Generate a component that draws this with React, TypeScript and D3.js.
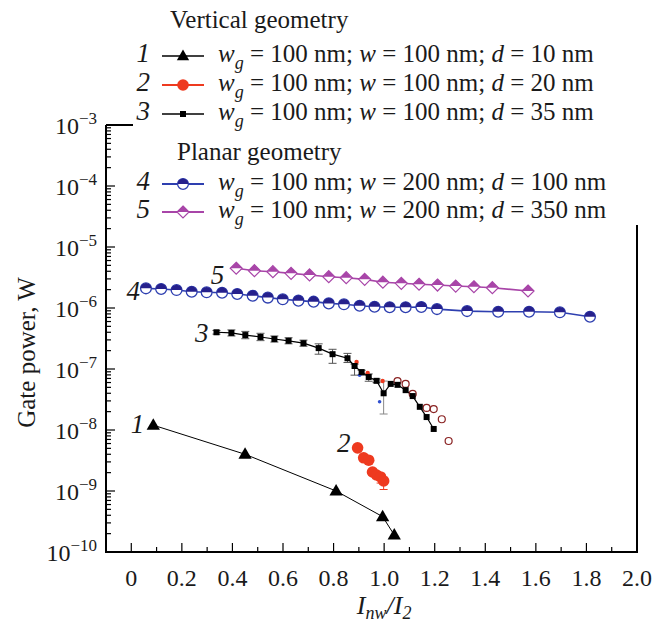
import React from 'react'
import {scaleLinear, scaleLog, line} from 'd3'

// series 1: vertical, d = 10 nm
const s1X = [0.087, 0.45, 0.81, 0.994, 1.04]
const s1Y = [1.2e-8, 4.0e-9, 1.0e-9, 3.8e-10, 1.9e-10]

// series 2: vertical, d = 20 nm (points only)
const s2X = [0.895, 0.919, 0.939, 0.954, 0.97, 0.986, 0.998]
const s2Y = [5.1e-9, 3.5e-9, 3.2e-9, 2.05e-9, 1.83e-9, 1.7e-9, 1.46e-9]
const s2ErrDn = [0, 0, 0, 0.05, 0.06, 0.1, 0.14]

// series 3: vertical, d = 35 nm
const s3X = [0.337, 0.396, 0.451, 0.511, 0.566, 0.622, 0.681, 0.741, 0.796, 0.855, 0.883, 0.911, 0.939, 0.97, 0.998, 1.026, 1.053, 1.085, 1.113, 1.141, 1.168, 1.196]
const s3Y = [4.0e-7, 3.9e-7, 3.6e-7, 3.35e-7, 3.1e-7, 2.9e-7, 2.65e-7, 2.2e-7, 1.75e-7, 1.5e-7, 1.12e-7, 8.9e-8, 7.4e-8, 6.4e-8, 4.0e-8, 5.7e-8, 5.5e-8, 4.5e-8, 3.6e-8, 2.4e-8, 1.63e-8, 1.04e-8]
const s3ErrUp = [0.03, 0.05, 0.06, 0.06, 0.05, 0.05, 0.05, 0.07, 0.08, 0.08, 0.03, 0.03, 0.05, 0.03, 0.2, 0, 0, 0, 0, 0, 0, 0]
const s3ErrDn = [0.03, 0.05, 0.06, 0.06, 0.05, 0.05, 0.05, 0.1, 0.15, 0.07, 0.15, 0.05, 0.07, 0.03, 0.34, 0, 0, 0, 0, 0, 0, 0]

// extra measurements overlaid on curve 3
const openX = [1.053, 1.085, 1.113, 1.168, 1.196, 1.228, 1.255]
const openY = [6.35e-8, 5.7e-8, 3.9e-8, 2.3e-8, 2.2e-8, 1.5e-8, 6.6e-9]
const redDotX = [0.891, 0.935, 0.994]
const redDotY = [1.3e-7, 8.6e-8, 6.35e-8]
const blueDotX = [0.903, 0.982]
const blueDotY = [7.9e-8, 2.9e-8]

// series 4: planar, d = 100 nm
const s4X = [0.058, 0.118, 0.179, 0.239, 0.298, 0.359, 0.419, 0.48, 0.54, 0.599, 0.661, 0.721, 0.781, 0.841, 0.903, 0.962, 1.022, 1.085, 1.147, 1.209, 1.328, 1.451, 1.573, 1.695, 1.814]
const s4Y = [2.1e-6, 2.05e-6, 1.97e-6, 1.85e-6, 1.81e-6, 1.78e-6, 1.7e-6, 1.59e-6, 1.48e-6, 1.39e-6, 1.32e-6, 1.27e-6, 1.19e-6, 1.15e-6, 1.09e-6, 1.05e-6, 1.03e-6, 1.03e-6, 1.04e-6, 9.6e-7, 8.9e-7, 8.7e-7, 8.7e-7, 8.5e-7, 7.2e-7]

// series 5: planar, d = 350 nm
const s5X = [0.415, 0.487, 0.56, 0.632, 0.705, 0.781, 0.85, 0.923, 0.995, 1.068, 1.138, 1.211, 1.283, 1.355, 1.428, 1.569]
const s5Y = [4.48e-6, 4.09e-6, 3.94e-6, 3.7e-6, 3.48e-6, 3.26e-6, 3.14e-6, 2.95e-6, 2.65e-6, 2.54e-6, 2.45e-6, 2.38e-6, 2.29e-6, 2.23e-6, 2.15e-6, 1.9e-6]

const xTicks = [0, 0.2, 0.4, 0.6, 0.8, 1.0, 1.2, 1.4, 1.6, 1.8, 2.0]
const xTickLabels = ['0', '0.2', '0.4', '0.6', '0.8', '1.0', '1.2', '1.4', '1.6', '1.8', '2.0']
const yExps = [-3, -4, -5, -6, -7, -8, -9, -10]

const legendRows = [
  {n: '1', w: '100', d: '10'},
  {n: '2', w: '100', d: '20'},
  {n: '3', w: '100', d: '35'},
  {n: '4', w: '200', d: '100'},
  {n: '5', w: '200', d: '350'},
]

const font = '"Liberation Serif", "Times New Roman", serif'
const BLUE = '#2e3fb0'
const NAVY = '#26208c'
const MAG = '#a845a8'
const RED = '#ee3a1f'
const INK = '#1a1a1a'

export default function App() {
  const width = 667, height = 631
  const x = scaleLinear().domain([-0.1, 2.0]).range([106, 637])
  const y = scaleLog().domain([1e-10, 1e-3]).range([552, 125])
  const x0 = x(-0.1), x1 = x(2.0), yb = y(1e-10), yt = y(1e-3)

  const pts = (xs: number[], ys: number[]) => xs.map((v, i) => [x(v), y(ys[i])] as [number, number])
  const path = line()

  const minorX: number[] = []
  for (let i = 0; i < 10; i++) minorX.push(0.1 + 0.2 * i)
  const minorY: number[] = []
  for (let e = -10; e < -3; e++) for (let m = 2; m <= 9; m++) minorY.push(m * Math.pow(10, e))

  const tri = (cx: number, cy: number, s: number) =>
    `M${cx},${cy - s}L${cx + s * 0.95},${cy + s * 0.65}L${cx - s * 0.95},${cy + s * 0.65}Z`

  const circ4 = (cx: number, cy: number, key: any) => (
    <g key={key}>
      <circle cx={cx} cy={cy} r={5.4} fill="#fff" stroke={BLUE} strokeWidth={1.3} />
      <path d={`M${cx - 5.4},${cy}A5.4,5.4 0 0 1 ${cx + 5.4},${cy}Z`} fill={NAVY} />
    </g>
  )
  const diam5 = (cx: number, cy: number, key: any) => (
    <g key={key}>
      <path d={`M${cx},${cy - 6}L${cx + 6},${cy}L${cx},${cy + 6}L${cx - 6},${cy}Z`} fill="#fff" stroke={MAG} strokeWidth={1.2} />
      <path d={`M${cx},${cy - 6}L${cx + 6},${cy}L${cx - 6},${cy}Z`} fill={MAG} />
    </g>
  )

  const p1 = pts(s1X, s1Y), p2 = pts(s2X, s2Y), p3 = pts(s3X, s3Y)
  const p4 = pts(s4X, s4Y), p5 = pts(s5X, s5Y)

  const errBar = (vx: number, vy: number, up: number, dn: number, color: string, key: any) => {
    const cx = x(vx)
    const ya = y(vy * Math.pow(10, up)), yc = y(vy / Math.pow(10, dn))
    return (
      <g key={key} stroke={color} strokeWidth={1}>
        <line x1={cx} x2={cx} y1={ya} y2={yc} />
        {up > 0 && <line x1={cx - 4} x2={cx + 4} y1={ya} y2={ya} />}
        {dn > 0 && <line x1={cx - 4} x2={cx + 4} y1={yc} y2={yc} />}
      </g>
    )
  }

  const legendY = [62, 91, 120, 190, 218]

  return (
    <svg width={width} height={height} style={{position: 'absolute', left: 0, top: 0, background: '#fff'}} fontFamily={font}>
      {/* frame */}
      <g stroke="#000" strokeWidth={2} fill="none">
        <path d={`M${x0},${yt}V${yb}H${x1}V${yt}H${x0}`} />
      </g>
      {/* ticks */}
      <g stroke="#000" strokeWidth={1.2}>
        {xTicks.map(t => <line key={'xt' + t} x1={x(t)} x2={x(t)} y1={yb} y2={yb - 9} />)}
        {minorX.map(t => <line key={'xm' + t} x1={x(t)} x2={x(t)} y1={yb} y2={yb - 5} />)}
        {yExps.map(e => <line key={'yt' + e} x1={x0} x2={x0 + 9} y1={y(Math.pow(10, e))} y2={y(Math.pow(10, e))} />)}
        {minorY.map((t, i) => <line key={'ym' + i} x1={x0} x2={x0 + 5} y1={y(t)} y2={y(t)} />)}
      </g>
      {/* x tick labels */}
      <g fontSize={24} textAnchor="middle" fill={INK}>
        {xTicks.map((t, i) => <text key={'xl' + t} x={x(t)} y={yb + 34}>{xTickLabels[i]}</text>)}
      </g>
      {/* y tick labels */}
      <g fontSize={24} textAnchor="end" fill={INK}>
        {yExps.map(e => (
          <text key={'yl' + e} x={97} y={y(Math.pow(10, e)) + 9}>
            10<tspan fontSize={17} dy={-10}>{'\u2212' + Math.abs(e)}</tspan>
          </text>
        ))}
      </g>
      <text transform={`translate(35,${(yt + yb) / 2 + 14}) rotate(-90)`} textAnchor="middle" fontSize={25} fill={INK}>Gate power, W</text>
      <text x={x(1.0)} y={yb + 62} textAnchor="middle" fontSize={26} fontStyle="italic" fill={INK}>
        I<tspan fontSize={18} dy={5}>nw</tspan><tspan dy={-5}>/I</tspan><tspan fontSize={18} dy={5}>2</tspan>
      </text>

      {/* legend background */}
      <rect x={x0 + 27} y={0} width={width - x0 - 27} height={yt + 100} fill="#fff" />

      {/* curve 1 */}
      <path d={path(p1) || ''} fill="none" stroke="#000" strokeWidth={1} />
      {p1.map((p, i) => <path key={'t' + i} d={tri(p[0], p[1], 7)} fill="#000" />)}

      {/* curve 2 */}
      {s2X.map((v, i) => s2ErrDn[i] > 0 ? errBar(v, s2Y[i], 0, s2ErrDn[i], RED, 'e2' + i) : null)}
      {p2.map((p, i) => <circle key={'c2' + i} cx={p[0]} cy={p[1]} r={5.8} fill={RED} />)}

      {/* curve 3 */}
      {s3X.map((v, i) => (s3ErrUp[i] > 0 || s3ErrDn[i] > 0) ? errBar(v, s3Y[i], s3ErrUp[i], s3ErrDn[i], i === 14 ? '#888' : '#555', 'e3' + i) : null)}
      <path d={path(p3) || ''} fill="none" stroke="#000" strokeWidth={1.2} />
      {pts(openX, openY).map((p, i) => <circle key={'o' + i} cx={p[0]} cy={p[1]} r={3.5} fill="none" stroke="#8a2323" strokeWidth={1.2} />)}
      {pts(redDotX, redDotY).map((p, i) => <circle key={'rd' + i} cx={p[0]} cy={p[1]} r={2.2} fill={RED} />)}
      {pts(blueDotX, blueDotY).map((p, i) => <circle key={'bd' + i} cx={p[0]} cy={p[1]} r={1.8} fill="#3050d0" />)}
      {p3.map((p, i) => <rect key={'s' + i} x={p[0] - 3} y={p[1] - 3} width={6} height={6} fill="#000" />)}

      {/* curve 4 */}
      <path d={path(p4) || ''} fill="none" stroke={BLUE} strokeWidth={1.6} />
      {p4.map((p, i) => circ4(p[0], p[1], 'c4' + i))}

      {/* curve 5 */}
      <path d={path(p5) || ''} fill="none" stroke={MAG} strokeWidth={1.6} />
      {p5.map((p, i) => diam5(p[0], p[1], 'd5' + i))}

      {/* curve numbers */}
      <g fontSize={27} fontStyle="italic" fill={INK} textAnchor="end">
        <text x={p1[0][0] - 9} y={p1[0][1] + 8}>1</text>
        <text x={p2[0][0] - 7} y={p2[0][1] + 4}>2</text>
        <text x={p3[0][0] - 8} y={p3[0][1] + 10}>3</text>
        <text x={p4[0][0] - 6} y={p4[0][1] + 12}>4</text>
        <text x={p5[0][0] - 12} y={p5[0][1] + 16}>5</text>
      </g>

      {/* legend */}
      <text x={170} y={28} fontSize={25} fill={INK}>Vertical geometry</text>
      <text x={177} y={160} fontSize={25} fill={INK}>Planar geometry</text>
      {legendRows.map((r, i) => {
        const ly = legendY[i]
        const cy = ly - 6
        const mx = 183
        let marker
        if (i === 0) marker = <path d={tri(mx, cy, 6.5)} fill="#000" />
        else if (i === 1) marker = <circle cx={mx} cy={cy} r={5.8} fill={RED} />
        else if (i === 2) marker = <rect x={mx - 3} y={cy - 3} width={6} height={6} fill="#000" />
        else if (i === 3) marker = circ4(mx, cy, 'l4')
        else marker = diam5(mx, cy, 'l5')
        const col = i === 1 ? RED : i === 3 ? BLUE : i === 4 ? MAG : '#000'
        return (
          <g key={'lg' + i}>
            <text x={150} y={ly} fontSize={27} fontStyle="italic" fill={INK} textAnchor="end">{r.n}</text>
            <line x1={162} x2={204} y1={cy} y2={cy} stroke={col} strokeWidth={i === 0 || i === 2 ? 1.5 : 2} />
            {marker}
            <text x={218} y={ly} fontSize={25} fill={INK}>
              <tspan fontStyle="italic">w</tspan><tspan fontStyle="italic" fontSize={18} dy={7}>g</tspan>
              <tspan dy={-7}>{' = 100 nm; '}</tspan>
              <tspan fontStyle="italic">w</tspan><tspan>{` = ${r.w} nm; `}</tspan>
              <tspan fontStyle="italic">d</tspan><tspan>{` = ${r.d} nm`}</tspan>
            </text>
          </g>
        )
      })}
    </svg>
  )
}
